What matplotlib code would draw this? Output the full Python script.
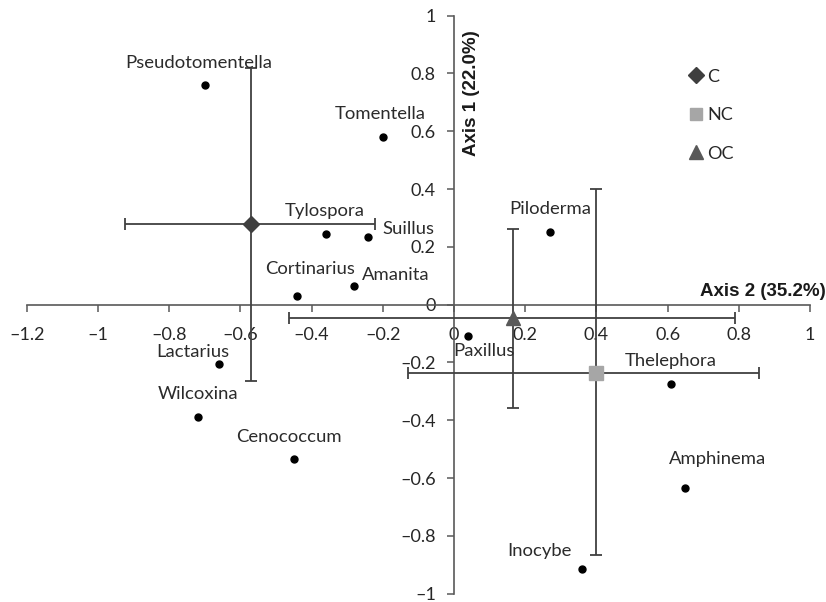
import matplotlib
matplotlib.use("Agg")
import matplotlib.pyplot as plt
from matplotlib.lines import Line2D

# Genus scores on the two ordination axes
genera = ["Pseudotomentella", "Tomentella", "Tylospora", "Suillus", "Piloderma",
          "Cortinarius", "Amanita", "Paxillus", "Lactarius", "Wilcoxina",
          "Cenococcum", "Thelephora", "Amphinema", "Inocybe"]
genus_x = [-0.70, -0.20, -0.36, -0.24, 0.27, -0.44, -0.28, 0.04, -0.66, -0.72,
           -0.45, 0.61, 0.65, 0.36]
genus_y = [0.76, 0.58, 0.245, 0.235, 0.25, 0.03, 0.065, -0.11, -0.205, -0.39,
           -0.535, -0.275, -0.633, -0.915]

# Group centroids with their spread along each axis
groups = ["C", "NC", "OC"]
group_x = [-0.57, 0.40, 0.165]
group_y = [0.278, -0.235, -0.046]
group_x_low = [-0.924, -0.13, -0.463]
group_x_high = [-0.222, 0.858, 0.789]
group_y_low = [-0.265, -0.868, -0.358]
group_y_high = [0.818, 0.40, 0.261]

x_ticks = [-1.2, -1.0, -0.8, -0.6, -0.4, -0.2, 0.0, 0.2, 0.4, 0.6, 0.8, 1.0]
x_tick_labels = ["\u20131.2", "\u20131", "\u20130.8", "\u20130.6", "\u20130.4", "\u20130.2",
                 "0", "0.2", "0.4", "0.6", "0.8", "1"]
y_ticks = [-1.0, -0.8, -0.6, -0.4, -0.2, 0.0, 0.2, 0.4, 0.6, 0.8, 1.0]
y_tick_labels = ["\u20131", "\u20130.8", "\u20130.6", "\u20130.4", "\u20130.2", "0",
                 "0.2", "0.4", "0.6", "0.8", "1"]

x_title = "Axis 2 (35.2%)"
y_title = "Axis 1 (22.0%)"

# label placement (pixels from each point) and alignment
label_offsets = {
    "Pseudotomentella": (-6, 22, "center"),
    "Tomentella": (-2, 23, "center"),
    "Tylospora": (-1, 23, "center"),
    "Suillus": (14, 8, "left"),
    "Piloderma": (0, 23, "center"),
    "Cortinarius": (13, 27, "center"),
    "Amanita": (8, 11, "left"),
    "Paxillus": (-15, -15, "left"),
    "Lactarius": (-26, 12, "center"),
    "Wilcoxina": (0, 23, "center"),
    "Cenococcum": (-5, 22, "center"),
    "Thelephora": (0, 23, "center"),
    "Amphinema": (32, 29, "center"),
    "Inocybe": (-10, 18, "right"),
}

group_style = {
    "C": dict(marker="D", color="#3f3f3f", ms=8.5),
    "NC": dict(marker="s", color="#a6a6a6", ms=9.5),
    "OC": dict(marker="^", color="#595959", ms=10),
}

label_font = "Lato"
axis_color = "#595959"
bar_color = "#404040"

fig = plt.figure(figsize=(8.26, 6.02), dpi=100)
ax = fig.add_axes([0, 0, 1, 1])
ax.set_xlim(-1.275, 1.045)
ax.set_ylim(-1.029, 1.054)

for side in ("top", "right"):
    ax.spines[side].set_visible(False)
ax.spines["left"].set_position(("data", 0))
ax.spines["bottom"].set_position(("data", 0))
ax.spines["left"].set_bounds(-1, 1)
ax.spines["bottom"].set_bounds(-1.2, 1)
for side in ("left", "bottom"):
    ax.spines[side].set_color(axis_color)
    ax.spines[side].set_linewidth(1.2)

ax.set_xticks(x_ticks)
ax.set_xticklabels(x_tick_labels)
ax.set_yticks(y_ticks)
ax.set_yticklabels(y_tick_labels)
ax.tick_params(axis="x", direction="out", length=5, width=1.1, color=axis_color,
               pad=11, labelsize=13, labelcolor="#262626")
ax.tick_params(axis="y", direction="out", length=5, width=1.1, color=axis_color,
               pad=8, labelsize=13, labelcolor="#262626")
for lab in ax.get_xticklabels() + ax.get_yticklabels():
    lab.set_fontfamily(label_font)

# spread bars for each group centroid
for i, g in enumerate(groups):
    ax.errorbar([group_x[i]], [group_y[i]],
                xerr=[[group_x[i] - group_x_low[i]], [group_x_high[i] - group_x[i]]],
                yerr=[[group_y[i] - group_y_low[i]], [group_y_high[i] - group_y[i]]],
                fmt="none", ecolor=bar_color, elinewidth=1.3, capsize=4,
                capthick=1.3, zorder=3)

# genus points and names
ax.plot(genus_x, genus_y, "o", color="black", ms=5, ls="none", zorder=4)
for name, gx, gy in zip(genera, genus_x, genus_y):
    dx, dy, ha = label_offsets[name]
    ax.annotate(name, (gx, gy), xytext=(dx, dy), textcoords="offset pixels",
                ha=ha, va="center", fontsize=13.3, family=label_font,
                color="#2b2b2b", zorder=5)

# centroid markers
handles = []
for i, g in enumerate(groups):
    st = group_style[g]
    ax.plot([group_x[i]], [group_y[i]], marker=st["marker"], color=st["color"],
            ms=st["ms"], ls="none", zorder=6)
    handles.append(Line2D([], [], marker=st["marker"], color=st["color"],
                          ms=st["ms"] * 0.95, ls="none", label=g))

leg = ax.legend(handles=handles, loc="upper left", bbox_to_anchor=(0.814, 0.913),
                bbox_transform=fig.transFigure, frameon=False, handlelength=0.8,
                handletextpad=0.25, labelspacing=1.25,
                prop={"family": label_font, "size": 13})
for t in leg.get_texts():
    t.set_color("#262626")

# axis titles beside the crossing axes
ax.text(1.0 + 0.045, 0.045, x_title, transform=ax.transData, ha="right",
        va="center", fontsize=13.5, fontweight="bold", family="Liberation Sans",
        color="#1a1a1a")
ax.annotate(y_title, (0, 1.0), xytext=(18, -15), textcoords="offset pixels",
            rotation=90, ha="center", va="top", fontsize=13.5, fontweight="bold",
            family="Liberation Sans", color="#1a1a1a")

fig.savefig("out.png", dpi=100)
